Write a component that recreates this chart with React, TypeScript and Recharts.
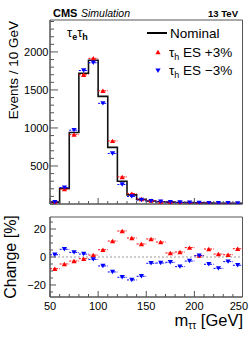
import React from 'react';
import { ComposedChart, Line, Scatter, XAxis, YAxis, ReferenceLine, ReferenceArea, ErrorBar } from 'recharts';

// 10 GeV bins, 50-250
const binLow = [50, 60, 70, 80, 90, 100, 110, 120, 130, 140, 150, 160, 170, 180, 190, 200, 210, 220, 230, 240];
const binCenter = [55, 65, 75, 85, 95, 105, 115, 125, 135, 145, 155, 165, 175, 185, 195, 205, 215, 225, 235, 245];
const upperEdge = 250;
const binHalfWidth = 5;

const nominal = [25, 205, 940, 1720, 1890, 1415, 745, 300, 120, 60, 40, 30, 25, 20, 18, 15, 12, 10, 10, 8];
const shiftUp = [23, 195, 912, 1700, 1916, 1489, 830, 356, 136, 66, 45, 33, 26, 21, 19, 15, 13, 10, 10, 8];
const shiftDown = [25, 216, 971, 1756, 1858, 1324, 665, 256, 100, 52, 38, 29, 24, 19, 17, 15, 11, 9, 10, 8];

// percent change vs nominal
const changeUp = [-8.4, -5, -2.9, -1.2, 1.4, 5.2, 11.4, 18.6, 13.6, 9.3, 12.9, 10.7, 2.9, 3.6, 6.7, 1, 5.7, 2.1, 1.6, 5.9];
const changeDown = [1.6, 5.5, 3.3, 2.1, -1.7, -6.4, -10.7, -14.5, -16.4, -13.8, -4.5, -4.3, -3.8, -6.9, -2.9, 0.9, -5.2, -8.1, -3.3, -5.9];

const xLabels = [50, 100, 150, 200, 250];
const topLabels = [500, 1000, 1500, 2000];
const bottomLabels = [-20, 0, 20];

const xMinor = Array.from({ length: 21 }, (_, i) => 50 + i * 10);
const topMinor = Array.from({ length: 25 }, (_, i) => i * 100);
const bottomMinor = Array.from({ length: 11 }, (_, i) => -25 + i * 5);

const FRAME = '#555';
const RED = '#ff0000';
const BLUE = '#0000ff';
const FONT = '"Liberation Sans", Arial, Helvetica, sans-serif';

const histPoints = [...binLow.map((x, i) => ({ x, y: nominal[i] })), { x: upperEdge, y: nominal[nominal.length - 1] }];
const rows = (vals: number[]) => binCenter.map((x, i) => ({ x, y: vals[i], ex: binHalfWidth }));

const fmt = (v: number) => (v < 0 ? '\u2212' + Math.abs(v) : String(v));

const leftTick = (labelled: number[], majorLen: number, minorLen: number, gap: number) => (props: any) => {
  const { x, y, payload } = props;
  const v = payload.value;
  const isMajor = labelled.includes(v);
  return (
    <g>
      <line x1={x} x2={x + (isMajor ? majorLen : minorLen)} y1={y} y2={y} stroke={FRAME} />
      {isMajor && (
        <text x={x - gap} y={y} dy="0.36em" textAnchor="end" fontSize={11} fill="#000" fontFamily={FONT}>
          {fmt(v)}
        </text>
      )}
    </g>
  );
};

const bottomTick = (showLabels: boolean) => (props: any) => {
  const { x, y, payload } = props;
  const v = payload.value;
  const isMajor = xLabels.includes(v);
  // last label is pulled inside the page like ROOT does
  const last = v === xLabels[xLabels.length - 1];
  return (
    <g>
      <line x1={x} x2={x} y1={y} y2={y - (isMajor ? 6 : 3)} stroke={FRAME} />
      {showLabels && isMajor && (
        <text
          x={last ? x + 5.5 : x}
          y={y + 12.5}
          textAnchor={last ? 'end' : 'middle'}
          fontSize={11}
          fill="#000"
          fontFamily={FONT}
        >
          {v}
        </text>
      )}
    </g>
  );
};

const triangle = (color: string, down: boolean) => (props: any) => {
  const { cx, cy } = props;
  const h = 4.4;
  const w = 2.6;
  const d = down
    ? `M${cx - w},${cy - h / 2} L${cx + w},${cy - h / 2} L${cx},${cy + h / 2} Z`
    : `M${cx - w},${cy + h / 2} L${cx + w},${cy + h / 2} L${cx},${cy - h / 2} Z`;
  return <path d={d} fill={color} />;
};

function TopPanel() {
  return (
    <ComposedChart width={249} height={226} margin={{ top: 20, right: 6.5, left: 0, bottom: 2 }}>
      <XAxis
        dataKey="x"
        type="number"
        domain={[50, 250]}
        ticks={xMinor}
        interval={0}
        height={20}
        tickSize={0}
        tickMargin={0}
        tickLine={false}
        axisLine={{ stroke: FRAME }}
        tick={bottomTick(false)}
        allowDataOverflow
      />
      <YAxis
        dataKey="y"
        type="number"
        domain={[0, 2420]}
        ticks={topMinor}
        interval={0}
        width={50}
        tickSize={0}
        tickMargin={0}
        tickLine={false}
        axisLine={{ stroke: FRAME }}
        tick={leftTick(topLabels, 8, 4, 1.5)}
        allowDataOverflow
      />
      <ReferenceArea x1={50} x2={250} y1={0} y2={2420} fill="none" stroke={FRAME} ifOverflow="visible" />
      <Line data={histPoints} dataKey="y" type="stepAfter" stroke="#111" strokeWidth={1.6} dot={false} isAnimationActive={false} />
      <Scatter data={rows(shiftUp)} shape={triangle(RED, false)} isAnimationActive={false}>
        <ErrorBar dataKey="ex" direction="x" width={0} stroke={RED} strokeWidth={1} strokeDasharray="2 1" />
      </Scatter>
      <Scatter data={rows(shiftDown)} shape={triangle(BLUE, true)} isAnimationActive={false}>
        <ErrorBar dataKey="ex" direction="x" width={0} stroke={BLUE} strokeWidth={1} strokeDasharray="2 1" />
      </Scatter>
    </ComposedChart>
  );
}

function BottomPanel() {
  return (
    <ComposedChart width={249} height={140} margin={{ top: 17, right: 6.5, left: 0, bottom: 3 }}>
      <XAxis
        dataKey="x"
        type="number"
        domain={[50, 250]}
        ticks={xMinor}
        interval={0}
        height={40}
        tickSize={0}
        tickMargin={0}
        tickLine={false}
        axisLine={{ stroke: FRAME }}
        tick={bottomTick(true)}
        allowDataOverflow
      />
      <YAxis
        dataKey="y"
        type="number"
        domain={[-28.6, 28.6]}
        ticks={bottomMinor}
        interval={0}
        width={50}
        tickSize={0}
        tickMargin={0}
        tickLine={false}
        axisLine={{ stroke: FRAME }}
        tick={leftTick(bottomLabels, 6, 3, 4)}
        allowDataOverflow
      />
      <ReferenceArea x1={50} x2={250} y1={-28.6} y2={28.6} fill="none" stroke={FRAME} ifOverflow="visible" />
      <ReferenceLine y={0} stroke="#999" strokeDasharray="2 2" />
      <Scatter data={rows(changeUp)} shape={triangle(RED, false)} isAnimationActive={false}>
        <ErrorBar dataKey="ex" direction="x" width={0} stroke={RED} strokeWidth={1} strokeDasharray="2 1" />
      </Scatter>
      <Scatter data={rows(changeDown)} shape={triangle(BLUE, true)} isAnimationActive={false}>
        <ErrorBar dataKey="ex" direction="x" width={0} stroke={BLUE} strokeWidth={1} strokeDasharray="2 1" />
      </Scatter>
    </ComposedChart>
  );
}

function Labels() {
  return (
    <svg width={249} height={340} style={{ position: 'absolute', left: 0, top: 0, pointerEvents: 'none' }} fontFamily={FONT}>
      <text x={53} y={17} fontSize={11} fontWeight="bold">CMS</text>
      <text x={81} y={17} fontSize={10.5} fontStyle="italic">Simulation</text>
      <text x={238} y={17} fontSize={9.5} fontWeight="bold" textAnchor="end">13 TeV</text>

      <text x={67} y={37} fontSize={13}>
        τ<tspan dy={3} fontSize={9} fontWeight="bold">e</tspan>
        <tspan dy={-3}>τ</tspan>
        <tspan dy={3} fontSize={9} fontWeight="bold">h</tspan>
      </text>

      <line x1={147} x2={167} y1={33} y2={33} stroke="#000" strokeWidth={2} />
      <text x={170} y={37.5} fontSize={13.5}>Nominal</text>
      <path d="M155.4,54.2 L160.6,54.2 L158,49.8 Z" fill={RED} />
      <text x={169} y={57} fontSize={13.5}>
        τ<tspan dy={3} fontSize={9}>h</tspan>
        <tspan dy={-3}> ES +3%</tspan>
      </text>
      <path d="M155.4,68.5 L160.6,68.5 L158,72.9 Z" fill={BLUE} />
      <text x={169} y={75} fontSize={13.5}>
        τ<tspan dy={3} fontSize={9}>h</tspan>
        <tspan dy={-3}> ES {'\u2212'}3%</tspan>
      </text>

      <text transform="translate(18,21) rotate(-90)" fontSize={13.5} textAnchor="end">Events / 10 GeV</text>
      <text transform="translate(16,257) rotate(-90)" fontSize={16} textAnchor="middle">Change [%]</text>
      <text x={243} y={326} fontSize={16.5} textAnchor="end">
        m<tspan dy={3} fontSize={10}>ττ</tspan>
        <tspan dy={-3}> [GeV]</tspan>
      </text>
    </svg>
  );
}

export default function App() {
  return (
    <div style={{ position: 'absolute', left: 0, top: 0, width: 249, height: 340, background: '#fff' }}>
      <div style={{ position: 'absolute', left: 0, top: 0 }}>
        <TopPanel />
      </div>
      <div style={{ position: 'absolute', left: 0, top: 200 }}>
        <BottomPanel />
      </div>
      <Labels />
    </div>
  );
}
